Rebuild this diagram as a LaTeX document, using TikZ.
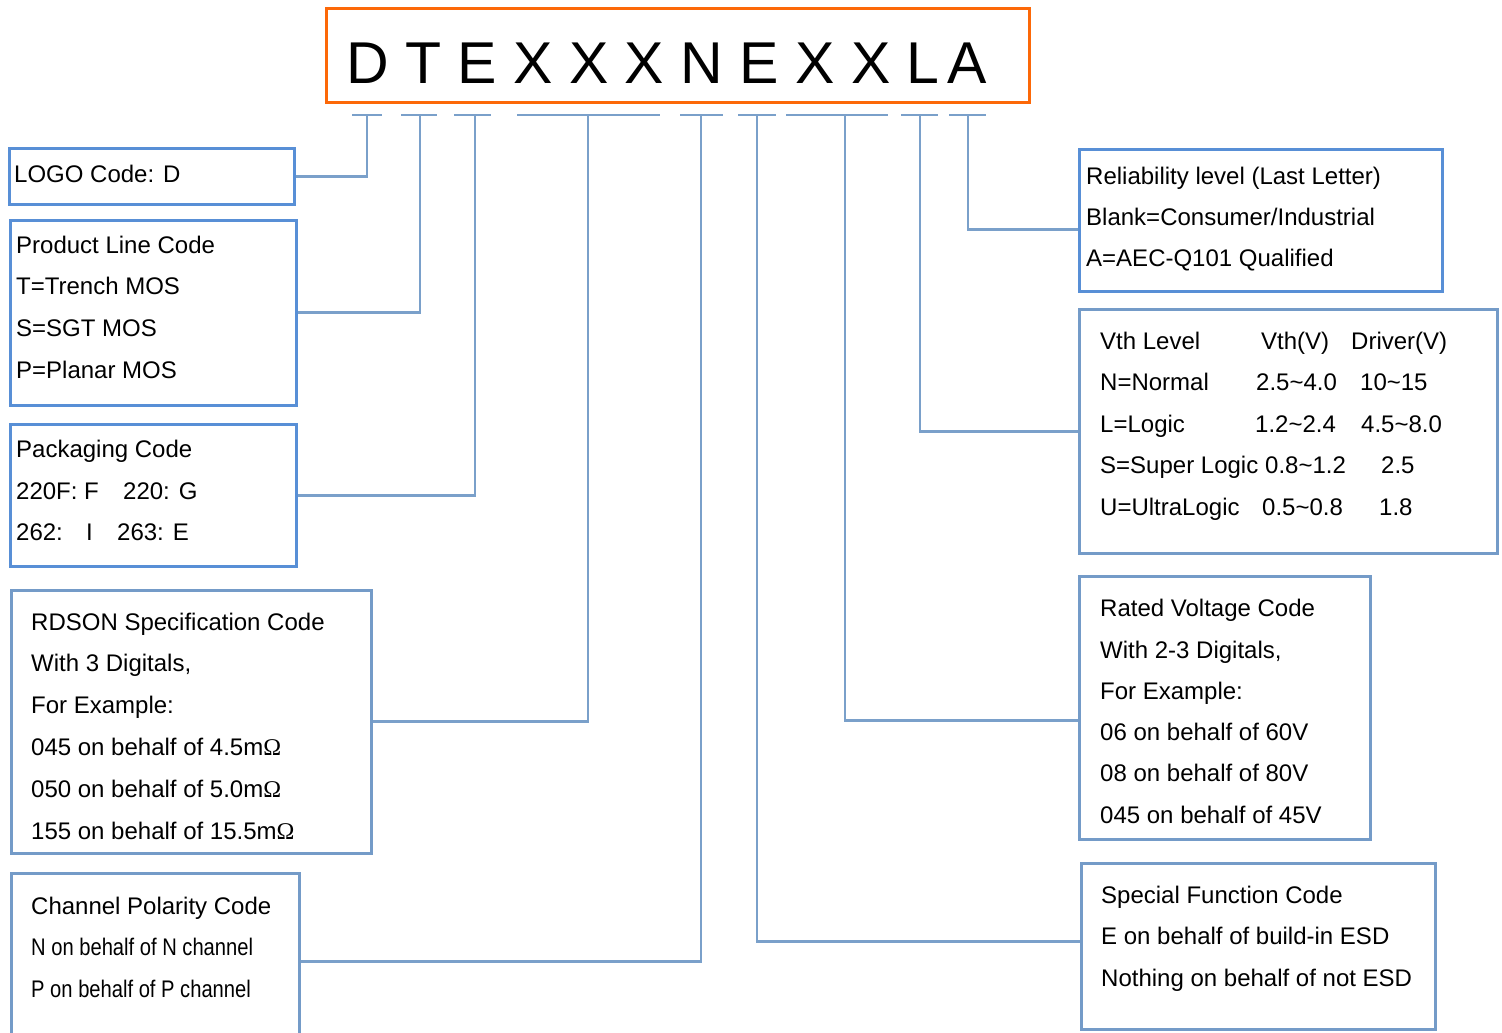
\documentclass[tikz,border=0pt]{standalone}
\usepackage{fontspec}
\setmainfont{Liberation Sans}
\newfontfamily\narrowfont[FakeStretch=0.84]{Liberation Sans}
\newfontfamily\omegafont{Liberation Serif}
\usetikzlibrary{positioning}
\definecolor{codeorange}{RGB}{252,104,8}
\definecolor{boxblue}{RGB}{88,143,214}
\definecolor{boxgray}{RGB}{116,155,200}
\definecolor{linkblue}{RGB}{122,160,202}
\newcommand{\mohm}{m{\omegafont\char"03A9}}

\begin{document}
\begin{tikzpicture}[
  x=1pt, y=-1pt,
  box/.style={draw=boxblue,line width=2.6pt,inner sep=0pt,anchor=north west},
  graybox/.style={box,draw=boxgray},
  txt/.style={anchor=base west,inner sep=0pt,font=\fontsize{24}{28}\selectfont},
  link/.style={draw=linkblue,line width=2.8pt},
  ]
  \clip (0,0) rectangle (1502,1033);

  % part number
  \node[box,draw=codeorange,line width=3pt,minimum width=703pt,minimum height=94pt] (code) at (325,7) {};
  \node[anchor=base west,inner sep=0pt,font=\fontsize{59}{60}\selectfont] (code-txt) at (346,84) {D T E X X X N E X X L\kern8pt A};

  % left boxes
  \node[box,minimum width=285pt,minimum height=56pt] (logo) at (8,147) {};
  \node[box,minimum width=286pt,minimum height=185pt] (prod) at (9,219) {};
  \node[box,minimum width=286pt,minimum height=142pt] (pack) at (9,423) {};
  \node[graybox,minimum width=360pt,minimum height=263pt] (rdson) at (10,589) {};
  \node[graybox,minimum width=288pt,minimum height=176pt] (chan) at (10,872) {};

  % right boxes
  \node[box,minimum width=363pt,minimum height=142pt] (rel) at (1078,148) {};
  \node[graybox,minimum width=418pt,minimum height=244pt] (vth) at (1078,308) {};
  \node[graybox,minimum width=291pt,minimum height=263pt] (rated) at (1078,575) {};
  \node[graybox,minimum width=354pt,minimum height=166pt] (spec) at (1080,862) {};

  % texts
  \node[txt] (logo-0) at (14,182) {LOGO Code: D};
  \foreach \t [count=\i from 0] in {Product Line Code,T=Trench MOS,S=SGT MOS,P=Planar MOS}
    \node[txt] (prod-\i) at (16,253+41.7*\i) {\t};
  \foreach \t [count=\i from 0] in {Packaging Code,\makebox[107pt][l]{220F: F}220: G,
      \makebox[70pt][l]{262:}\makebox[31pt][l]{I}263: E}
    \node[txt] (pack-\i) at (16,457.5+41.6*\i) {\t};
  \foreach \t [count=\i from 0] in {RDSON Specification Code,{With 3 Digitals,},For Example:,
      045 on behalf of 4.5\mohm,050 on behalf of 5.0\mohm,155 on behalf of 15.5\mohm}
    \node[txt] (rdson-\i) at (31,630+41.8*\i) {\t};
  \foreach \t [count=\i from 0] in {Channel Polarity Code,{\narrowfont N on behalf of N channel},
      {\narrowfont P on behalf of P channel}}
    \node[txt] (chan-\i) at (31,914+41.5*\i) {\t};
  \foreach \t [count=\i from 0] in {Reliability level (Last Letter),Blank=Consumer/Industrial,
      A=AEC-Q101 Qualified}
    \node[txt] (rel-\i) at (1086,184+41.3*\i) {\t};
  \foreach \a/\b/\c/\p/\q [count=\i from 0] in {Vth Level/Vth(V)/Driver(V)/161/90,
      N=Normal/2.5\textasciitilde4.0/10\textasciitilde15/156/104,
      L=Logic/1.2\textasciitilde2.4/4.5\textasciitilde8.0/155/106,
      S=Super Logic/0.8\textasciitilde1.2/2.5/165/116,
      U=UltraLogic/0.5\textasciitilde0.8/1.8/162/117}
    \node[txt] (vth-\i) at (1100,349.5+41.4*\i) {\makebox[\p pt][l]{\a}\makebox[\q pt][l]{\b}\c};
  \foreach \t [count=\i from 0] in {Rated Voltage Code,{With 2-3 Digitals,},For Example:,
      06 on behalf of 60V,08 on behalf of 80V,045 on behalf of 45V}
    \node[txt] (rated-\i) at (1100,616.7+41.3*\i) {\t};
  \foreach \t [count=\i from 0] in {Special Function Code,E on behalf of build-in ESD,
      Nothing on behalf of not ESD}
    \node[txt] (spec-\i) at (1101,903+41.5*\i) {\t};

  % segments under the letters
  \foreach \a/\b/\c [count=\i] in {352/382/367,401/437/420,454/491/475,517/660/588,
      680/723/701,738/776/757,786/888/845,901/938/920,949/986/968}{
    \coordinate (sl\i) at (\a,115);
    \coordinate (sr\i) at (\b,115);
    \coordinate (sd\i) at (\c,115);
    \path[link] (sl\i) -- (sr\i);
  }

  % connectors
  \path[link]
  (sd1) |- (logo.east)
  (sd2) |- (prod.east)
  (sd3) |- (pack.east)
  (sd4) |- (rdson.east)
  (sd5) |- (chan.east)
  (sd6) |- ([yshift=5pt]spec.west)
  (sd7) |- ([yshift=-12.5pt]rated.west)
  (sd8) |- (vth.west)
  (sd9) |- ([yshift=-9pt]rel.west);
\end{tikzpicture}
\end{document}
